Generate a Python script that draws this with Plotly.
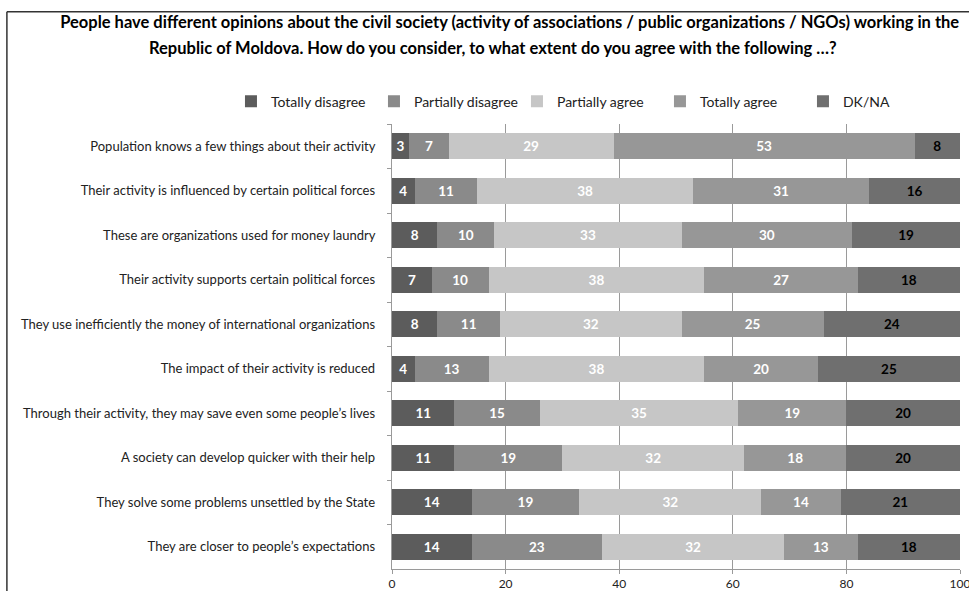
import plotly.graph_objects as go

categories = [
    "Population knows a few things about their activity",
    "Their activity is influenced by certain political forces",
    "These are organizations used for money laundry",
    "Their activity supports certain political forces",
    "They use inefficiently the money of international organizations",
    "The impact of their activity is reduced",
    "Through their activity, they may save even some people\u2019s lives",
    "A society can develop quicker with their help",
    "They solve some problems unsettled by the State",
    "They are closer to people\u2019s expectations",
]
series_names = ["Totally disagree", "Partially disagree", "Partially agree", "Totally agree", "DK/NA"]
totally_disagree = [3, 4, 8, 7, 8, 4, 11, 11, 14, 14]
partially_disagree = [7, 11, 10, 10, 11, 13, 15, 19, 19, 23]
partially_agree = [29, 38, 33, 38, 32, 38, 35, 32, 32, 32]
totally_agree = [53, 31, 30, 27, 25, 20, 19, 18, 14, 13]
dk_na = [8, 16, 19, 18, 24, 25, 20, 20, 21, 18]
x_ticks = [0, 20, 40, 60, 80, 100]
title_line1 = "People have different opinions about the civil society (activity of associations / public organizations / NGOs) working in the"
title_line2 = "Republic of Moldova. How do you consider, to what extent do you agree with the following \u2026?"

values = [totally_disagree, partially_disagree, partially_agree, totally_agree, dk_na]
colors = ["#5c5c5c", "#8a8a8a", "#c6c6c6", "#979797", "#6f6f6f"]
text_colors = ["white", "white", "white", "white", "black"]

FONT = "Lato"

fig = go.Figure()
for name, vals, col, tc in zip(series_names, values, colors, text_colors):
    fig.add_trace(go.Bar(
        y=categories, x=vals, name=name, orientation="h",
        marker=dict(color=col, line=dict(width=0)),
        text=[str(v) for v in vals], textposition="inside",
        insidetextanchor="middle", textangle=0, constraintext="none",
        textfont=dict(color=tc, size=13.5, family=FONT, weight="bold"),
        hoverinfo="skip",
    ))

fig.update_layout(
    barmode="stack",
    bargap=0.42,
    width=969, height=591,
    margin=dict(l=392, r=9, t=124, b=22, autoexpand=False),
    paper_bgcolor="white", plot_bgcolor="white",
    font=dict(family=FONT, size=13, color="#222"),
    title=dict(
        text="<b>" + title_line1 + "</b>",
        x=0.526, xanchor="center", y=0.9628, yanchor="middle",
        font=dict(family=FONT, size=16.5, color="black"),
    ),
    annotations=[dict(
        text="<b>" + title_line2 + "</b>", xref="paper", yref="paper",
        x=0.178, xanchor="center", y=1.171, yanchor="middle", showarrow=False,
        font=dict(family=FONT, size=16.5, color="black"),
    )],
    legend=dict(
        orientation="h", x=-0.2835, xanchor="left", y=1.0145, yanchor="bottom",
        font=dict(family=FONT, size=14, color="#222"),
        traceorder="normal", itemwidth=30, entrywidth=98, entrywidthmode="pixels",
    ),
    shapes=[
        dict(type="line", xref="paper", yref="paper", x0=-0.678, x1=1.1, y0=1.252, y1=1.252,
             line=dict(color="#333", width=1.5), layer="below"),
        dict(type="line", xref="paper", yref="paper", x0=-0.678, x1=-0.678, y0=-0.2, y1=1.252,
             line=dict(color="#333", width=1.5), layer="below"),
    ],
)
fig.update_xaxes(
    range=[0, 100], tickvals=x_ticks, showgrid=True, gridcolor="#9a9a9a", gridwidth=1,
    showline=True, linecolor="#9a9a9a", ticks="outside", ticklen=4, tickcolor="#9a9a9a",
    tickfont=dict(size=12, color="#222"), zeroline=False, fixedrange=True, automargin=False,
    ticklabeloverflow="allow",
)
fig.update_yaxes(
    autorange="reversed", showline=True, linecolor="#9a9a9a", ticks="outside", ticklen=4,
    tickcolor="#9a9a9a", tickson="boundaries", tickfont=dict(size=13, color="#222"),
    ticksuffix="    ", automargin=False,
)

fig.write_html("out.html", config={"displayModeBar": False},
               post_script="document.body.style.margin='0';document.body.style.overflow='hidden';")
